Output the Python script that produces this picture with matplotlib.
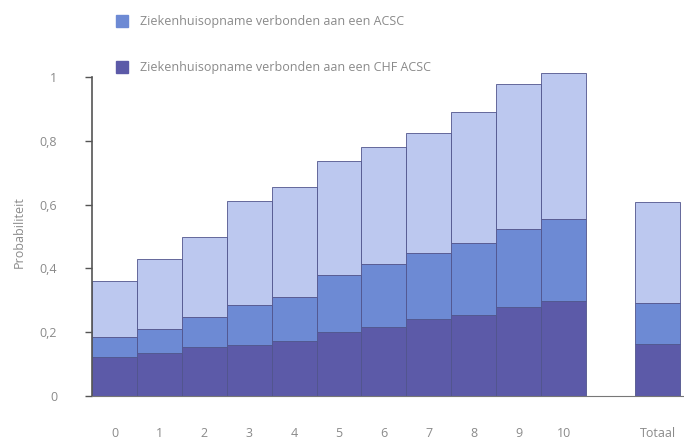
import matplotlib
matplotlib.use("Agg")
import matplotlib.pyplot as plt
import numpy as np

categories = ["0", "1", "2", "3", "4", "5", "6", "7", "8", "9", "10", "Totaal"]
positions = [0, 1, 2, 3, 4, 5, 6, 7, 8, 9, 10, 12.1]

# cumulative levels of each stack
chf_acsc = [0.123, 0.134, 0.155, 0.160, 0.172, 0.200, 0.217, 0.243, 0.254, 0.280, 0.299, 0.162]
acsc     = [0.186, 0.210, 0.247, 0.285, 0.311, 0.379, 0.414, 0.449, 0.481, 0.524, 0.555, 0.292]
totaal   = [0.361, 0.428, 0.497, 0.610, 0.655, 0.737, 0.780, 0.825, 0.889, 0.977, 1.013, 0.609]

yticks = [0, 0.2, 0.4, 0.6, 0.8, 1]
ytick_labels = ["0", "0,2", "0,4", "0,6", "0,8", "1"]

c_dark = "#5c5aa8"
c_mid = "#6d8ad4"
c_light = "#bcc8ef"
edge = "#50548c"
grey = "#8a8a8a"

plt.rcParams['font.family'] = ['Open Sans', 'DejaVu Sans']

fig = plt.figure(figsize=(6.84, 4.41), dpi=100)
ax = fig.add_axes([0.1345, 0.102, 0.8655, 0.745])

x = np.array(positions)
chf = np.array(chf_acsc)
mid = np.array(acsc) - chf
top = np.array(totaal) - np.array(acsc)

ax.bar(x, chf, width=1.0, color=c_dark, edgecolor=edge, linewidth=0.6)
ax.bar(x, mid, width=1.0, bottom=chf, color=c_mid, edgecolor=edge, linewidth=0.6)
ax.bar(x, top, width=1.0, bottom=np.array(acsc), color=c_light, edgecolor=edge, linewidth=0.6)

ax.set_xlim(-0.5, 12.68)
ax.set_ylim(0, 1.03)
ax.spines['top'].set_visible(False)
ax.spines['right'].set_visible(False)
ax.spines['left'].set_bounds(0, 1)
ax.spines['left'].set_color("#555555")
ax.spines['bottom'].set_color("#777777")
ax.spines['left'].set_linewidth(1.2)

ax.set_yticks(yticks)
ax.set_yticklabels(ytick_labels)
ax.set_xticks(positions)
ax.set_xticklabels(categories)
ax.tick_params(axis='y', length=5, width=1.0, color="#555555", labelcolor=grey,
               labelsize=9, pad=20)
ax.tick_params(axis='x', length=0, labelcolor=grey, labelsize=9, pad=22)
ax.set_ylabel("Probabiliteit", color=grey, fontsize=9, labelpad=10)

# legend boxes drawn in figure coordinates
fig.patches.append(plt.Rectangle((116 / 684, 1 - 27 / 441), 12 / 684, 12 / 441,
                                 transform=fig.transFigure, color=c_mid))
fig.patches.append(plt.Rectangle((116 / 684, 1 - 73 / 441), 12 / 684, 12 / 441,
                                 transform=fig.transFigure, color=c_dark))
fig.text(140 / 684, 1 - 21 / 441, "Ziekenhuisopname verbonden aan een ACSC",
         color=grey, fontsize=9, va='center')
fig.text(140 / 684, 1 - 67 / 441, "Ziekenhuisopname verbonden aan een CHF ACSC",
         color=grey, fontsize=9, va='center')

fig.savefig("out.png", dpi=100)
